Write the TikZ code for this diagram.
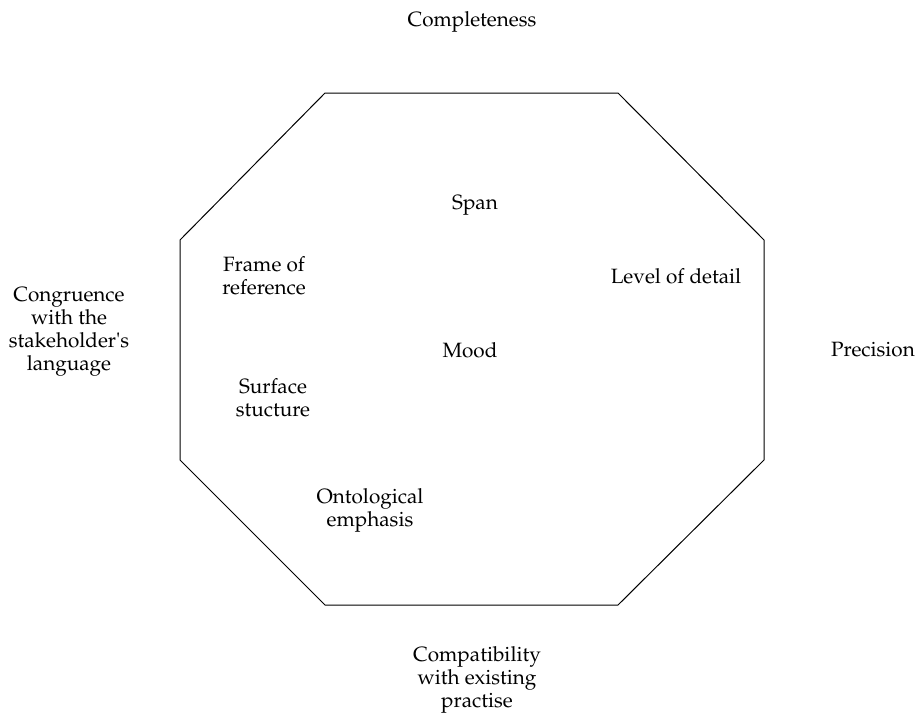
\documentclass[tikz,border=0pt]{standalone}
\usepackage[T1]{fontenc}
\renewcommand{\rmdefault}{ppl}
\begin{document}
\begin{tikzpicture}[x=1pt,y=-1pt,
  lbl/.style={align=center,inner sep=0pt,font=\fontsize{20.7}{23}\selectfont},
  edge/.style={draw=black,line width=1pt,line join=miter}]
\useasboundingbox (0,0) rectangle (917,717);
% octagon corners
\coordinate (p1) at (325,93);
\coordinate (p2) at (618,93);
\coordinate (p3) at (764,240);
\coordinate (p4) at (764,460);
\coordinate (p5) at (618,605);
\coordinate (p6) at (325,605);
\coordinate (p7) at (180,460);
\coordinate (p8) at (180,240);
\draw[edge] (p1) -- (p2) -- (p3) -- (p4) -- (p5) -- (p6) -- (p7) -- (p8) -- cycle;
% outer qualities
\node[lbl] (compl) at (472,22) {Completeness};
\node[lbl] (congr) at (69,332) {Congruence\\with the\\stakeholder\textquotesingle s\\language};
\node[lbl] (prec) at (873,350) {Precision};
\node[lbl] (compat) at (477,680) {Compatibility\\with existing\\practise};
% inner aspects
\node[lbl] (span) at (475,205) {Span};
\node[lbl] (lod) at (676,276) {Level of detail};
\node[lbl] (frame) at (264,276) {Frame of\\reference};
\node[lbl] (mood) at (470,350) {Mood};
\node[lbl] (surf) at (273,398) {Surface\\stucture};
\node[lbl] (onto) at (370,510) {Ontological\\emphasis};
\end{tikzpicture}
\end{document}
